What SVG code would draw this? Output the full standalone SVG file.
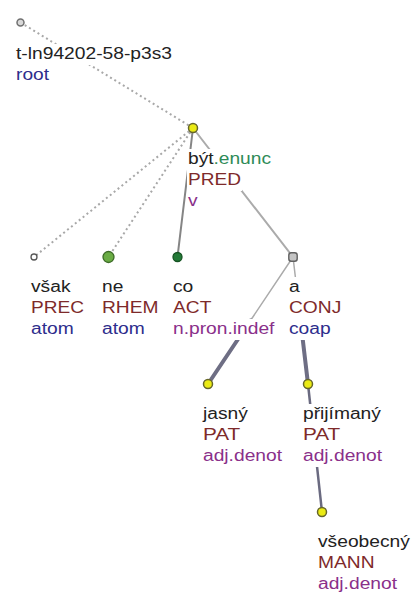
<svg xmlns="http://www.w3.org/2000/svg" width="414" height="596" viewBox="0 0 414 596">
<style>
text{font-family:"Liberation Sans",Arial,sans-serif;font-size:16px}
.bg{fill:#fff}
.lem{fill:#222}
.fun{fill:#7e2a2a}
.nt{fill:#2d2d8c}
.sp{fill:#8a308a}
.grn{fill:#2e8b57}
.dot{stroke:#a8a8a8;stroke-width:2;stroke-dasharray:2 3;fill:none}
.e{fill:none;stroke-linecap:round}
.y{fill:#ebeb14;stroke:#66662a;stroke-width:1.5}
</style>
<rect width="414" height="596" fill="#fff"/>
<g id="edges">
<line class="dot" x1="20.5" y1="22.5" x2="193" y2="128"/>
<line class="dot" x1="193" y1="128" x2="34" y2="257"/>
<line class="dot" x1="193" y1="128" x2="108.5" y2="257"/>
<line class="e" stroke="#858585" stroke-width="2" x1="193" y1="128" x2="177.5" y2="257"/>
<line class="e" stroke="#ababab" stroke-width="2" x1="193" y1="128" x2="293" y2="257"/>
<line class="e" stroke="#ababab" stroke-width="1.5" x1="293" y1="257" x2="250.5" y2="320.5"/>
<line class="e" stroke="#6e6e84" stroke-width="4" x1="250.5" y1="320.5" x2="208" y2="384"/>
<line class="e" stroke="#ababab" stroke-width="1.5" x1="293" y1="257" x2="300.5" y2="320.5"/>
<line class="e" stroke="#6e6e84" stroke-width="4" x1="300.5" y1="320.5" x2="308" y2="384"/>
<line class="e" stroke="#6a6a80" stroke-width="2.5" x1="308" y1="384" x2="322" y2="512"/>
</g>
<g id="n-root">
<rect class="bg" x="15" y="44" width="158" height="21"/>
<rect class="bg" x="15" y="65" width="35" height="21"/>
<text class="lem" x="16" y="59" textLength="156" lengthAdjust="spacingAndGlyphs">t-ln94202-58-p3s3</text>
<text class="nt" x="16" y="80" textLength="33" lengthAdjust="spacingAndGlyphs">root</text>
<circle cx="20.5" cy="22.5" r="3.5" fill="#d8d8d8" stroke="#707070" stroke-width="1.5"/>
</g>
<g id="n-byt">
<rect class="bg" x="187" y="149" width="85" height="21"/>
<rect class="bg" x="187" y="170" width="55" height="21"/>
<rect class="bg" x="187" y="191" width="12" height="21"/>
<text x="188" y="164" textLength="83" lengthAdjust="spacingAndGlyphs"><tspan class="lem">být</tspan><tspan class="grn">.enunc</tspan></text>
<text class="fun" x="188" y="185" textLength="53" lengthAdjust="spacingAndGlyphs">PRED</text>
<text class="sp" x="188" y="206" textLength="9.6" lengthAdjust="spacingAndGlyphs">v</text>
<circle class="y" cx="193" cy="128" r="4.5"/>
</g>
<g id="n-vsak">
<rect class="bg" x="30" y="277" width="42" height="21"/>
<rect class="bg" x="30" y="298" width="55" height="21"/>
<rect class="bg" x="30" y="319" width="45" height="21"/>
<text class="lem" x="31" y="292" textLength="39.5" lengthAdjust="spacingAndGlyphs">však</text>
<text class="fun" x="31" y="313" textLength="53" lengthAdjust="spacingAndGlyphs">PREC</text>
<text class="nt" x="31" y="334" textLength="42.7" lengthAdjust="spacingAndGlyphs">atom</text>
<circle cx="34" cy="257" r="3" fill="#fff" stroke="#555" stroke-width="1.3"/>
</g>
<g id="n-ne">
<rect class="bg" x="101" y="277" width="24" height="21"/>
<rect class="bg" x="101" y="298" width="59" height="21"/>
<rect class="bg" x="101" y="319" width="45" height="21"/>
<text class="lem" x="102" y="292" textLength="21.3" lengthAdjust="spacingAndGlyphs">ne</text>
<text class="fun" x="102" y="313" textLength="56.5" lengthAdjust="spacingAndGlyphs">RHEM</text>
<text class="nt" x="102" y="334" textLength="42.7" lengthAdjust="spacingAndGlyphs">atom</text>
<circle cx="108.5" cy="257" r="5.5" fill="#6aac44" stroke="#3d6b28" stroke-width="1.3"/>
</g>
<g id="n-co">
<rect class="bg" x="172" y="277" width="23" height="21"/>
<rect class="bg" x="172" y="298" width="41" height="21"/>
<rect class="bg" x="172" y="319" width="104" height="21"/>
<text class="lem" x="173" y="292" textLength="20.3" lengthAdjust="spacingAndGlyphs">co</text>
<text class="fun" x="173" y="313" textLength="38.4" lengthAdjust="spacingAndGlyphs">ACT</text>
<text class="sp" x="173" y="334" textLength="101.4" lengthAdjust="spacingAndGlyphs">n.pron.indef</text>
<circle cx="177.5" cy="257" r="4.5" fill="#237a38" stroke="#155222" stroke-width="1.3"/>
</g>
<g id="n-a">
<rect class="bg" x="288" y="277" width="13" height="21"/>
<rect class="bg" x="288" y="298" width="55" height="21"/>
<rect class="bg" x="288" y="319" width="44" height="21"/>
<text class="lem" x="289" y="292" textLength="10.7" lengthAdjust="spacingAndGlyphs">a</text>
<text class="fun" x="289" y="313" textLength="52.3" lengthAdjust="spacingAndGlyphs">CONJ</text>
<text class="nt" x="289" y="334" textLength="41.6" lengthAdjust="spacingAndGlyphs">coap</text>
<rect x="288.8" y="252.8" width="8.4" height="8.4" rx="2.5" fill="#c4c4c4" stroke="#606060" stroke-width="1.4"/>
</g>
<g id="n-jasny">
<rect class="bg" x="202" y="404" width="47" height="21"/>
<rect class="bg" x="202" y="425" width="40" height="21"/>
<rect class="bg" x="202" y="446" width="81" height="21"/>
<text class="lem" x="203" y="419" textLength="44.8" lengthAdjust="spacingAndGlyphs">jasný</text>
<text class="fun" x="203" y="440" textLength="37.3" lengthAdjust="spacingAndGlyphs">PAT</text>
<text class="sp" x="203" y="461" textLength="79" lengthAdjust="spacingAndGlyphs">adj.denot</text>
<circle class="y" cx="208" cy="384" r="4.5"/>
</g>
<g id="n-prijimany">
<rect class="bg" x="302" y="404" width="80" height="21"/>
<rect class="bg" x="302" y="425" width="40" height="21"/>
<rect class="bg" x="302" y="446" width="81" height="21"/>
<text class="lem" x="303" y="419" textLength="77.9" lengthAdjust="spacingAndGlyphs">přijímaný</text>
<text class="fun" x="303" y="440" textLength="37.3" lengthAdjust="spacingAndGlyphs">PAT</text>
<text class="sp" x="303" y="461" textLength="79" lengthAdjust="spacingAndGlyphs">adj.denot</text>
<circle class="y" cx="308" cy="384" r="4.5"/>
</g>
<g id="n-vseobecny">
<rect class="bg" x="317" y="532" width="94" height="21"/>
<rect class="bg" x="317" y="553" width="59" height="21"/>
<rect class="bg" x="317" y="574" width="81" height="21"/>
<text class="lem" x="318" y="547" textLength="91.8" lengthAdjust="spacingAndGlyphs">všeobecný</text>
<text class="fun" x="318" y="568" textLength="56.5" lengthAdjust="spacingAndGlyphs">MANN</text>
<text class="sp" x="318" y="589" textLength="79" lengthAdjust="spacingAndGlyphs">adj.denot</text>
<circle class="y" cx="322" cy="512" r="4.5"/>
</g>
</svg>
